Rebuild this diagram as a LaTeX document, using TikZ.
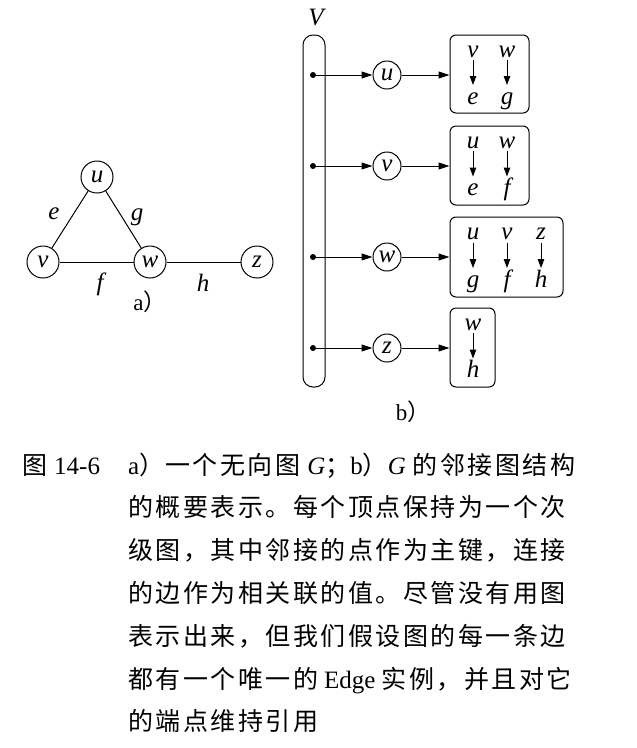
\documentclass[tikz,border=0pt]{standalone}
\usepackage{fontspec}
\setmainfont{Liberation Serif}
\newfontfamily\cjk{Noto Sans CJK SC}
\newfontfamily\cjkc{Noto Sans CJK SC}[LetterSpace=10]
\usetikzlibrary{arrows.meta}
\begin{document}
\begin{tikzpicture}[x=1pt,y=-1pt,
  every node/.style={inner sep=0pt},
  lt/.style={font=\fontsize{25}{25}\selectfont\itshape},
  vA/.style={circle,draw,line width=1pt,minimum size=32pt,lt},
  vB/.style={circle,draw,line width=1pt,minimum size=28pt,lt},
  gedge/.style={line width=1pt},
  arr/.style={line width=1pt,-{Triangle[length=11pt,width=7pt]}},
  sarr/.style={line width=1pt,-{Triangle[length=9pt,width=6.5pt]}},
  dot/.style={circle,fill,minimum size=6pt},
  mapbox/.style={draw,line width=1pt,rounded corners=6pt},
  key/.style={lt,anchor=base,outer sep=3pt,text height=10pt,text depth=0pt},
  val/.style={lt,anchor=base,outer sep=1pt,text height=18pt,text depth=0pt},
  sublabel/.style={font=\fontsize{23}{23}\selectfont,anchor=base},
  capline/.style={anchor=base west,font=\fontsize{25}{25}\selectfont}
]
\useasboundingbox (0,0) rectangle (637,748);

% ---------- a) ----------
\node[vA] (u) at (97,177) {u};
\node[vA] (v) at (43,262) {v};
\node[vA] (w) at (150,262) {w};
\node[vA] (z) at (257,262) {z};
\draw[gedge] (u) -- (v);
\draw[gedge] (u) -- (w);
\draw[gedge] (v) -- (w);
\draw[gedge] (w) -- (z);
\node[lt] (le) at (54,214) {e};
\node[lt] (lg) at (137,217) {g};
\node[lt] (lf) at (100,284) {f};
\node[lt] (lh) at (203,283) {h};
\node[sublabel] (la) at (150,310) {a{\cjk ）}};

% ---------- b) ----------
\node[lt,anchor=base] (Vlab) at (316,25) {V};
\node[draw,line width=1pt,rounded corners=10pt,minimum width=22pt,minimum height=352pt] (Vbar) at (314,211) {};

\node[dot] (d1) at (313,75) {};
\node[dot] (d2) at (313,166) {};
\node[dot] (d3) at (313,257) {};
\node[dot] (d4) at (313,348) {};

\node[vB] (bu) at (387,75) {u};
\node[vB] (bv) at (387,166) {v};
\node[vB] (bw) at (387,257) {w};
\node[vB] (bz) at (387,348) {z};

\node[mapbox,minimum width=79pt,minimum height=78pt] (Bu) at (489.5,74) {};
\node[mapbox,minimum width=79pt,minimum height=79pt] (Bv) at (489.5,165.5) {};
\node[mapbox,minimum width=113pt,minimum height=80pt] (Bw) at (506.5,257) {};
\node[mapbox,minimum width=45pt,minimum height=79pt] (Bz) at (472.5,347.5) {};

\draw[arr] (d1) -- (bu);
\draw[arr] (d2) -- (bv);
\draw[arr] (d3) -- (bw);
\draw[arr] (d4) -- (bz);
\draw[arr] (bu) -- (bu -| Bu.west);
\draw[arr] (bv) -- (bv -| Bv.west);
\draw[arr] (bw) -- (bw -| Bw.west);
\draw[arr] (bz) -- (bz -| Bz.west);

% box u
\node[key] (ku1) at (473,57) {v};
\node[key] (ku2) at (507,57) {w};
\node[val] (vu1) at (473,104) {e};
\node[val] (vu2) at (507,104) {g};
% box v
\node[key] (kv1) at (473,148) {u};
\node[key] (kv2) at (507,148) {w};
\node[val] (vv1) at (473,195.5) {e};
\node[val] (vv2) at (507,195.5) {f};
% box w
\node[key] (kw1) at (473,239.5) {u};
\node[key] (kw2) at (507,239.5) {v};
\node[key] (kw3) at (541,239.5) {z};
\node[val] (vw1) at (473,287) {g};
\node[val] (vw2) at (507,287) {f};
\node[val] (vw3) at (541,287) {h};
% box z
\node[key] (kz1) at (473,330) {w};
\node[val] (vz1) at (473,377.5) {h};

\foreach \a/\b in {ku1/vu1,ku2/vu2,kv1/vv1,kv2/vv2,kw1/vw1,kw2/vw2,kw3/vw3,kz1/vz1}
  \draw[sarr] (\a.south) -- (\b.north);

\node[sublabel] (lb) at (413,420) {b{\cjk ）}};

% ---------- caption ----------
\node[capline] (c0) at (22,474) {{\cjk 图}\hskip 7pt 14-6};
\node[capline] (c1) at (128,474) {a{\cjk ）}\hskip 1pt{\cjkc 一个无向图}\hskip 7pt{\itshape G}{\cjk ；}b{\cjk ）}{\itshape G}\hskip 7pt{\cjkc 的邻接图结构}};
\node[capline] (c2) at (128,516.8) {\cjkc 的概要表示。每个顶点保持为一个次};
\node[capline] (c3) at (128,559.6) {\cjkc 级图，其中邻接的点作为主键，连接};
\node[capline] (c4) at (128,602.4) {\cjkc 的边作为相关联的值。尽管没有用图};
\node[capline] (c5) at (128,645.2) {\cjkc 表示出来，但我们假设图的每一条边};
\node[capline] (c6) at (128,688) {{\cjkc 都有一个唯一的}\hskip 6pt Edge\hskip 6pt{\cjkc 实例，并且对它}};
\node[capline] (c7) at (128,730.8) {\cjkc 的端点维持引用};
\end{tikzpicture}
\end{document}
